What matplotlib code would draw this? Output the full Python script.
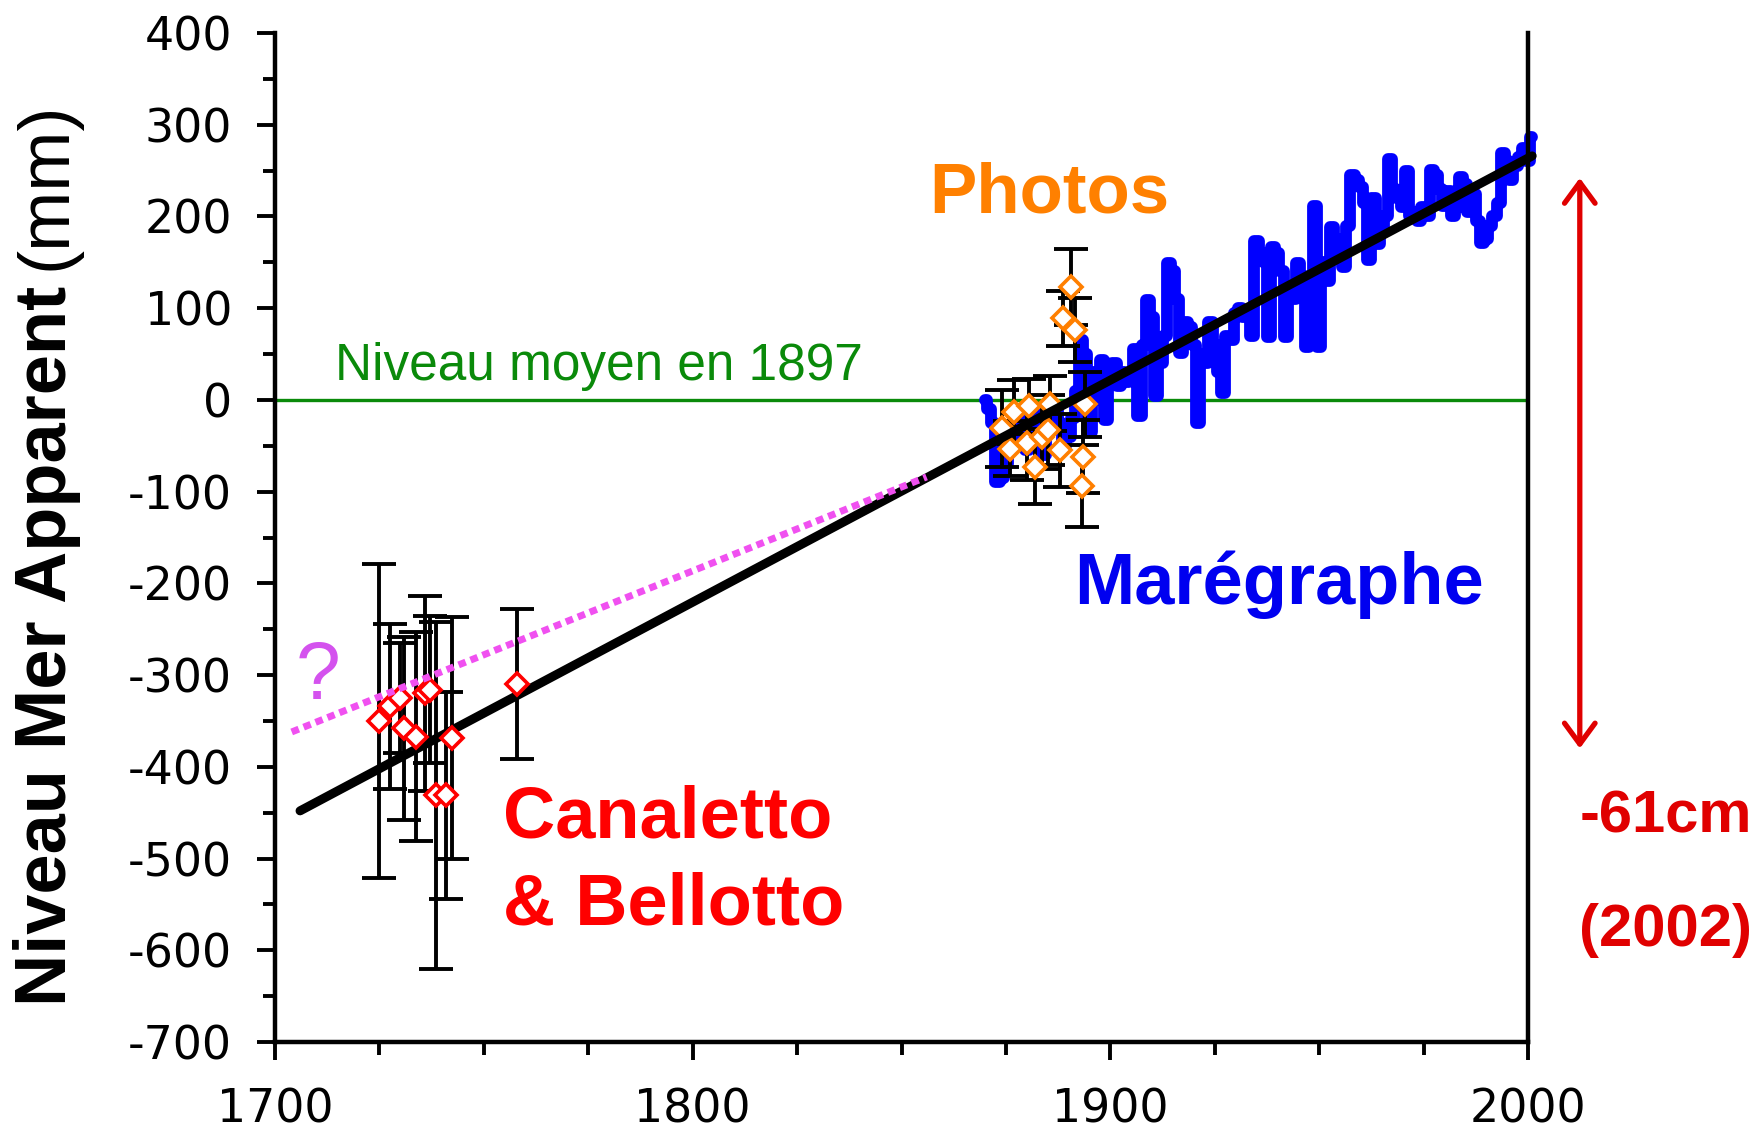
import matplotlib
matplotlib.use("Agg")
import matplotlib.pyplot as plt
from matplotlib.ticker import MultipleLocator

plt.rcParams['axes.unicode_minus'] = False

# ---------------- data ----------------
tide_years = list(range(1870, 2002))
tide_mm = [
    0, -10, -25, -90, -85, -70, -50, -35, -20, -40,          # 1870s
    -55, -30, -15, -45, -60, -35, -20, -10, -25, -50,        # 1880s
    -40, -20, 10, 65, 50, -35, 30, 0, 44, -22,               # 1890s
    35, 40, 15, 30, 20, 25, 55, -18, 60, 109,                # 1900s
    90, 4, 40, 70, 149, 140, 110, 51, 85, 80,                # 1910s
    60, -25, 50, 40, 85, 60, 30, 7, 70, 65,                  # 1920s
    95, 100, 90, 95, 70, 173, 160, 150, 69, 167,             # 1930s
    160, 140, 69, 120, 110, 149, 135, 58, 120, 211,          # 1940s
    58, 150, 130, 189, 175, 160, 145, 190, 245, 240,         # 1950s
    232, 215, 153, 220, 170, 185, 200, 263, 230, 220,        # 1960s
    210, 250, 200, 205, 195, 210, 200, 251, 245, 230,        # 1970s
    211, 228, 200, 210, 243, 235, 205, 225, 195, 171,        # 1980s
    175, 190, 200, 215, 269, 260, 240, 255, 265, 275,        # 1990s
    260, 287,                                                # 2000s
]

canaletto_years = [1725, 1727.5, 1730, 1731, 1733.7, 1736, 1737, 1738.5, 1740.9, 1742.4, 1758]
canaletto_mm = [-350, -334, -325, -358, -367, -320, -316, -431, -431, -369, -310]
canaletto_err = [171, 90, 60, 100, 114, 106, 80, 189, 113, 132, 82]

photo_years = [1874, 1876, 1877, 1880, 1880.5, 1882, 1883.6, 1885, 1885.5,
               1888, 1888.7, 1890.7, 1891.5, 1893.1, 1893.5, 1894]
photo_mm = [-31, -53, -13, -47, -7, -73, -40, -33, -4, -55, 89, 123, 76, -94, -62, -5]
photo_err = [42, 30, 35, 40, 30, 41, 35, 38, 30, 40, 30, 41, 35, 45, 40, 35]

trend_years = [1706, 2001]
trend_mm = [-448, 266]

question_years = [1704, 1856]
question_mm = [-362, -84]

reference_level = 0          # Niveau moyen en 1897
arrow_top_mm, arrow_bottom_mm = 242, -380

x_ticks = [1700, 1800, 1900, 2000]
y_ticks = [400, 300, 200, 100, 0, -100, -200, -300, -400, -500, -600, -700]

# ---------------- figure ----------------
fig = plt.figure(figsize=(17.63, 11.33), dpi=100)
W, H = 1763, 1133
ax = fig.add_axes([275 / W, (H - 1042) / H, (1528 - 275) / W, (1042 - 33) / H])
ax.set_xlim(1700, 2000)
ax.set_ylim(-700, 400)

ax.spines['top'].set_visible(False)
for s in ['left', 'bottom', 'right']:
    ax.spines[s].set_linewidth(3.2)

ax.set_xticks(x_ticks)
ax.set_yticks(y_ticks)
ax.xaxis.set_minor_locator(MultipleLocator(25))
ax.yaxis.set_minor_locator(MultipleLocator(50))
ax.tick_params(which='major', length=13, width=2.8, labelsize=33, direction='out')
ax.tick_params(which='minor', length=9, width=2.8, direction='out')
ax.tick_params(axis='y', which='major', pad=18)
ax.tick_params(axis='x', which='major', pad=20)
ax.tick_params(right=False, top=False, which='both')

# reference level line
ax.axhline(reference_level, color='#0a8a0a', lw=2.4, zorder=1.5)

# tide gauge series
ax.plot(tide_years, tide_mm, color='#0000ff', lw=8.5, drawstyle='steps-mid',
        solid_joinstyle='round', solid_capstyle='round', zorder=2, clip_on=False)

# error bars
ax.errorbar(photo_years, photo_mm, yerr=photo_err, fmt='none', ecolor='black',
            elinewidth=2.8, capsize=12, capthick=2.8, zorder=3)
ax.errorbar(canaletto_years, canaletto_mm, yerr=canaletto_err, fmt='none', ecolor='black',
            elinewidth=2.8, capsize=12, capthick=2.8, zorder=3)

# photo markers
ax.plot(photo_years, photo_mm, linestyle='none', marker='D', ms=11,
        markerfacecolor='white', markeredgecolor='#ff7f00', markeredgewidth=2.6, zorder=3.5)

# trend
ax.plot(trend_years, trend_mm, color='black', lw=6.5, solid_capstyle='round',
        zorder=4, clip_on=False)

# canaletto markers
ax.plot(canaletto_years, canaletto_mm, linestyle='none', marker='D', ms=11,
        markerfacecolor='white', markeredgecolor='#ff0000', markeredgewidth=2.6, zorder=5)

# magenta dotted hypothesis
ax.plot(question_years, question_mm, color='#f050f0', lw=5,
        linestyle=(0, (1.1, 0.75)), dash_capstyle='butt', zorder=6)

# ---------------- texts ----------------
bold = dict(family='Liberation Sans', fontweight='bold')
ax.text(1714.4, 21.8, 'Niveau moyen en 1897', color='#0a8a0a', fontsize=37,
        family='Liberation Sans', ha='left', va='baseline')
ax.text(1885.3, 224, 'Photos', color='#ff8000', fontsize=51, ha='center', va='center', **bold)
ax.text(1891.3, -223, 'Marégraphe', color='#0000f0', fontsize=52, ha='left', va='baseline', **bold)
ax.text(1754.5, -477, 'Canaletto', color='#ff0000', fontsize=52, ha='left', va='baseline', **bold)
ax.text(1754.5, -572, '& Bellotto', color='#ff0000', fontsize=52, ha='left', va='baseline', **bold)
ax.text(1710.3, -303, '?', color='#d452ee', fontsize=58, family='Liberation Sans',
        ha='center', va='center')

# y label: bold part + regular part
fig.text(47 / W, 1 - 646 / H, 'Niveau Mer Apparent', rotation=90, fontsize=52,
         ha='center', va='center', **bold)
fig.text(47 / W, 1 - 186 / H, '(mm)', rotation=90, fontsize=52, family='Liberation Sans',
         ha='center', va='center')

# double arrow and annotation on the right
ax_x = 2012.4
ax.annotate('', xy=(ax_x, arrow_top_mm), xytext=(ax_x, arrow_bottom_mm),
            xycoords='data', textcoords='data', annotation_clip=False,
            arrowprops=dict(arrowstyle='<->,head_length=0.75,head_width=0.55',
                            color='#e00000', lw=3.8, mutation_scale=20,
                            shrinkA=0, shrinkB=0))
fig.text(1666 / W, 1 - 817 / H, '-61cm', color='#e00000', fontsize=43,
         ha='center', va='center', **bold)
fig.text(1666 / W, 1 - 931 / H, '(2002)', color='#e00000', fontsize=43,
         ha='center', va='center', **bold)

fig.savefig('out.png', dpi=100)
